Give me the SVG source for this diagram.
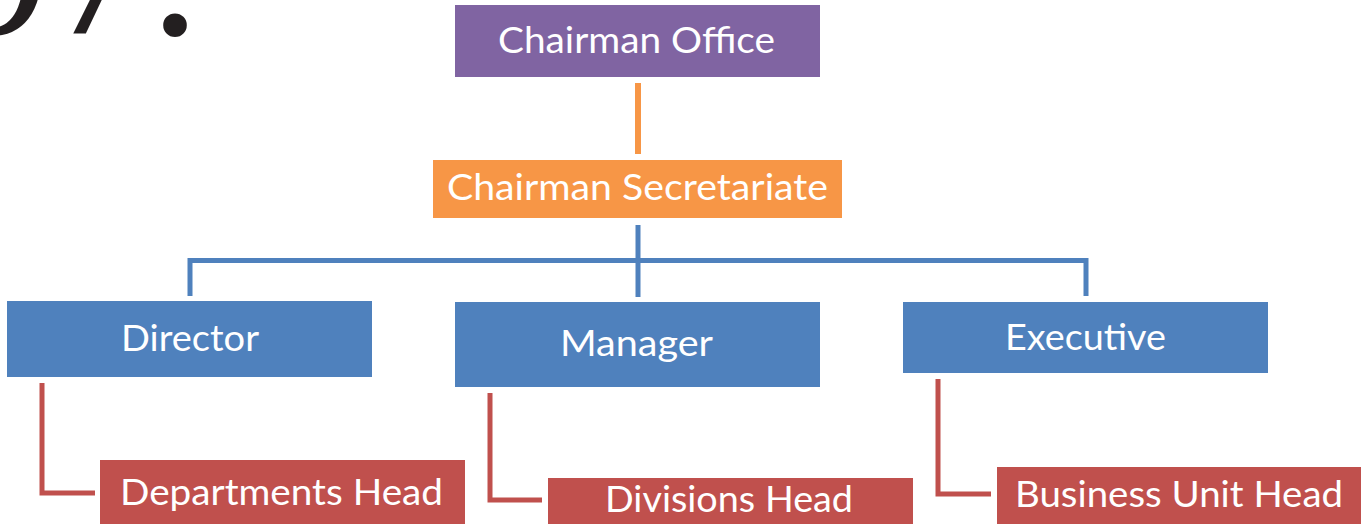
<svg xmlns="http://www.w3.org/2000/svg" width="1364" height="524" viewBox="0 0 1364 524">
<style>
.t{font-family:Lato,"Open Sans",sans-serif;font-size:36px;fill:#fff;text-anchor:start}
.blue{fill:#4F81BD}
.red{fill:#C0504D}
.cb{fill:none;stroke:#4F81BD;stroke-width:5}
.cr{fill:none;stroke:#C0504D;stroke-width:5}
</style>
<rect width="1364" height="524" fill="#fff"/>
<text x="-50" y="34" font-family="'Liberation Serif',serif" font-size="200" fill="#231F20">97.</text>
<g id="connectors">
<line x1="638" y1="83" x2="638" y2="154" stroke="#F79646" stroke-width="6"/>
<line x1="638" y1="225" x2="638" y2="297" stroke="#4F81BD" stroke-width="5"/>
<path class="cb" d="M190,296 V260.5 H1086 V296"/>
<path class="cr" d="M42,383 V493 H95"/>
<path class="cr" d="M490,393 V500 H542"/>
<path class="cr" d="M938,379 V494 H991"/>
</g>
<g id="chairman-office"><rect x="455" y="5" width="365" height="72" fill="#8064A2"/><text class="t" x="498" y="53" textLength="277" lengthAdjust="spacingAndGlyphs">Chairman Office</text></g>
<g id="chairman-secretariate"><rect x="433" y="160" width="409" height="58" fill="#F79646"/><text class="t" x="447" y="200" textLength="381" lengthAdjust="spacingAndGlyphs">Chairman Secretariate</text></g>
<g id="director"><rect class="blue" x="7" y="301" width="365" height="76"/><text class="t" x="121" y="351" textLength="138" lengthAdjust="spacingAndGlyphs">Director</text></g>
<g id="manager"><rect class="blue" x="455" y="302" width="365" height="85"/><text class="t" x="560" y="356" textLength="153" lengthAdjust="spacingAndGlyphs">Manager</text></g>
<g id="executive"><rect class="blue" x="903" y="302" width="365" height="71"/><text class="t" x="1005" y="350" textLength="161" lengthAdjust="spacingAndGlyphs">Executive</text></g>
<g id="departments-head"><rect class="red" x="100" y="460" width="365" height="70"/><text class="t" x="120" y="505" textLength="323" lengthAdjust="spacingAndGlyphs">Departments Head</text></g>
<g id="divisions-head"><rect class="red" x="548" y="478" width="365" height="52"/><text class="t" x="605" y="512" textLength="248" lengthAdjust="spacingAndGlyphs">Divisions Head</text></g>
<g id="business-unit-head"><rect class="red" x="997" y="467" width="364" height="63"/><text class="t" x="1015" y="507" textLength="328" lengthAdjust="spacingAndGlyphs">Business Unit Head</text></g>
</svg>
